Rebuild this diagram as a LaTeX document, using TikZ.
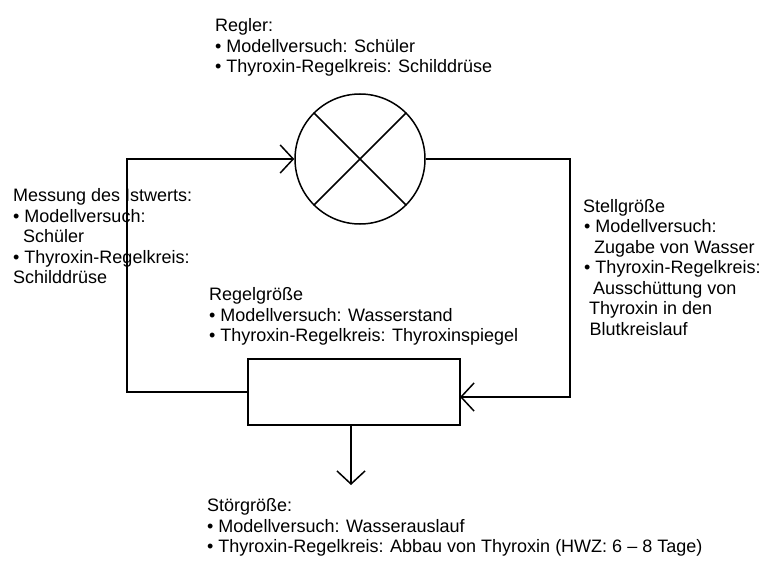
\documentclass[tikz,border=0pt]{standalone}
\usepackage{fontspec}
\setmainfont{Liberation Sans}
\usetikzlibrary{arrows.meta}

\begin{document}
\begin{tikzpicture}[x=1pt, y=-1pt,
        line/.style={line width=1.5pt},
        pfeil/.style={line, -{Straight Barb[length=13pt,width=28pt]}},
        info/.style={anchor=north west, align=left, inner sep=0pt, font=\fontsize{18}{20.5}\selectfont}]
        \useasboundingbox (0,0) rectangle (768,567);

        \node[line, draw, circle, minimum size=130pt, inner sep=0pt] (regler) at (360,159) {};
        \draw[line] (regler.north west) -- (regler.south east);
        \draw[line] (regler.north east) -- (regler.south west);
        \node[line, draw, minimum width=212pt, minimum height=66pt, inner sep=0pt] (strecke) at (354,392) {};

        \coordinate (eckeLinks) at (127,159);
        \coordinate (eckeRechts) at (570,397);
        \coordinate (zulauf) at (460,397);
        \coordinate (ablauf) at (351,425);
        \coordinate (stoerung) at (351,485);

        \draw[pfeil] (strecke.west) -| (eckeLinks) -- (regler.west);
        \draw[pfeil] (regler.east) -| (eckeRechts) -- (zulauf);
        \draw[pfeil] (ablauf) -- (stoerung);

        \node[info] (reglerText) at (215,18.5) {Regler:\\• Modellversuch: Schüler\\• Thyroxin-Regelkreis: Schilddrüse};
        \node[info] (messungText) at (13,188.5) {Messung des Istwerts:\\• Modellversuch:\\\hspace*{10pt}Schüler\\• Thyroxin-Regelkreis:\\Schilddrüse};
        \node[info] (stellText) at (583,199) {Stellgröße\\\hspace*{1pt}• Modellversuch:\\\hspace*{11pt}Zugabe von Wasser\\\hspace*{1pt}• Thyroxin-Regelkreis:\\\hspace*{10pt}Ausschüttung von\\\hspace*{6pt}Thyroxin in den\\\hspace*{6.5pt}Blutkreislauf};
        \node[info] (regelText) at (209,287.5) {Regelgröße\\• Modellversuch: Wasserstand\\• Thyroxin-Regelkreis: Thyroxinspiegel};
        \node[info] (stoerText) at (207,498.5) {Störgröße:\\• Modellversuch: Wasserauslauf\\• Thyroxin-Regelkreis: Abbau von Thyroxin (HWZ: 6 – 8 Tage)};

        % \draw
    \end{tikzpicture}
\end{document}
